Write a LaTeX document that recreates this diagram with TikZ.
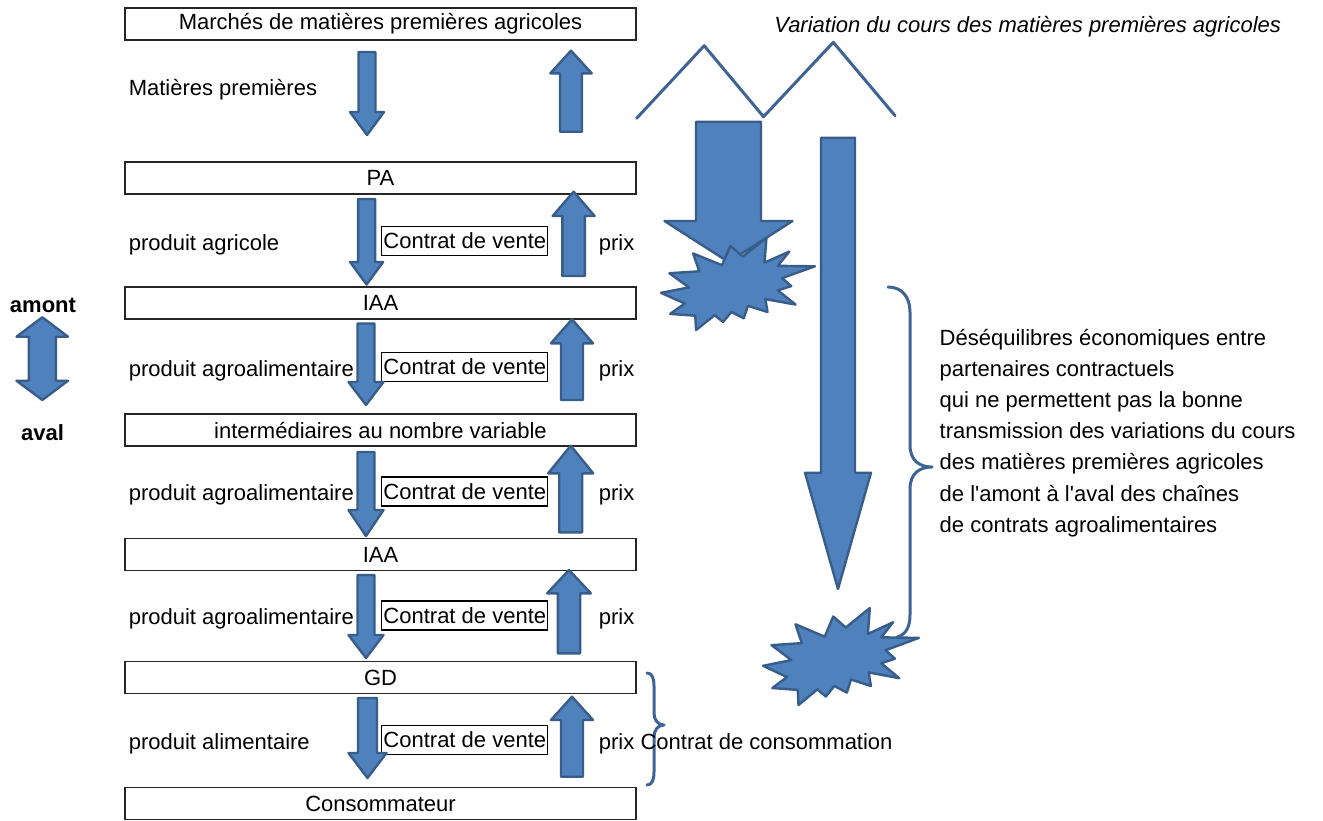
\documentclass[tikz,border=0pt]{standalone}
\usepackage{fontspec}
\setmainfont{Liberation Sans}
\definecolor{afill}{HTML}{4F81BD}
\definecolor{aline}{HTML}{385D8A}
\definecolor{bline}{RGB}{62,100,150}
\newcommand{\blockarrow}[6]{% x, y start, y head base, y tip, shaft half width, head half width
  \draw[blockshape] ({#1-#5},#2) -- ({#1+#5},#2) -- ({#1+#5},#3) -- ({#1+#6},#3) -- (#1,#4) -- ({#1-#6},#3) -- ({#1-#5},#3) -- cycle;}
\tikzset{
  blockshape/.style={fill=afill, draw=aline, line width=1.2pt, line join=round},
  mainbox/.style={draw=black!85, line width=0.9pt, minimum width=255.5pt, minimum height=16pt, inner sep=0pt, font=\fontsize{11}{13}\selectfont},
  contratbox/.style={draw=black, line width=0.6pt, minimum width=83pt, minimum height=14.5pt, inner sep=0pt, font=\fontsize{11}{13}\selectfont},
  lbl/.style={anchor=base west, inner sep=0pt, font=\fontsize{11}{13}\selectfont},
  blbl/.style={anchor=base, inner sep=0pt, font=\fontsize{11}{13}\bfseries\selectfont},
  thinline/.style={draw=bline, line width=1.5pt, line cap=round, line join=round},
  seal/.pic={
    \draw[blockshape] (53.06,20.10) -- (68.47,0) -- (67.25,26.75) -- (83.37,14.69) -- (75.83,30.24) -- (100,30.76) -- (78.63,43.53) -- (84.58,52.27) -- (75.83,56.99) -- (87.39,72.37) -- (67.78,66.44) -- (69.18,80.42) -- (56.39,73.77) -- (53.76,87.23) -- (45.70,80.42) -- (40.28,91.26) -- (34.85,83.91) -- (22.76,100) -- (22.25,84.44) -- (5.95,82.52) -- (15.42,71.16) -- (0,59.62) -- (18.22,53.67) -- (5.43,38.29) -- (24.87,36.19) -- (20.84,16.78) -- (39.58,29.55) -- (45.01,8.74) -- cycle;
  }
}
\begin{document}
\begin{tikzpicture}[x=0.5pt,y=-0.5pt]
\useasboundingbox (0,0) rectangle (1323,820);

% main boxes
\node[mainbox] (mkt) at (380.5,24) {Marchés de matières premières agricoles};
\node[mainbox] (pa) at (380.5,178.2) {PA};
\node[mainbox] (iaa1) at (380.5,303.3) {IAA};
\node[mainbox] (inter) at (380.5,430.2) {intermédiaires au nombre variable};
\node[mainbox] (iaa2) at (380.5,554.5) {IAA};
\node[mainbox] (gd) at (380.5,677.5) {GD};
\node[mainbox] (cons) at (380.5,803.5) {Consommateur};

% contract boxes
\node[contratbox] (c1) at (464.8,241) {Contrat de vente};
\node[contratbox] (c2) at (464.8,367) {Contrat de vente};
\node[contratbox] (c3) at (464.8,491.5) {Contrat de vente};
\node[contratbox] (c4) at (464.8,615.5) {Contrat de vente};
\node[contratbox] (c5) at (464.8,740) {Contrat de vente};

% left labels
\node[lbl] (l0) at (128.4,95.5) {Matières premières};
\node[lbl] (l1) at (128.4,250.5) {produit agricole};
\node[lbl] (l2) at (128.4,376.8) {produit agroalimentaire};
\node[lbl] (l3) at (128.4,500.8) {produit agroalimentaire};
\node[lbl] (l4) at (128.4,624.8) {produit agroalimentaire};
\node[lbl] (l5) at (128.4,749.2) {produit alimentaire};

% prix labels
\node[lbl] (p1) at (598.5,250.5) {prix};
\node[lbl] (p2) at (598.5,376.8) {prix};
\node[lbl] (p3) at (598.5,500.8) {prix};
\node[lbl] (p4) at (598.5,624.8) {prix};
\node[lbl] (p5) at (598.5,749.2) {prix};

% down arrows
\blockarrow{367}{52}{112}{135}{8.5}{17}
\blockarrow{366.6}{199}{262}{284.5}{8.5}{16.5}
\blockarrow{366}{323.5}{382}{405}{8.5}{17.5}
\blockarrow{366}{452}{510}{536}{8.5}{17.5}
\blockarrow{366}{575}{635}{658}{8.5}{17.5}
\blockarrow{367.5}{698}{753}{778}{9.5}{19}

% up arrows
\blockarrow{571}{131.7}{73.3}{50.7}{11}{20.7}
\blockarrow{573.6}{276}{216}{191.7}{11.2}{21}
\blockarrow{572}{400}{343.3}{319.3}{11}{21}
\blockarrow{570.7}{532.3}{473.3}{445.7}{11.5}{22.5}
\blockarrow{569}{653.3}{593.3}{570}{11.2}{21.8}
\blockarrow{572}{776.7}{720}{696.7}{11}{21}

% amont / aval
\node[blbl] (amont) at (43,312.5) {amont};
\node[blbl] (aval) at (42.5,440.5) {aval};
\draw[blockshape] (42.3,317.3) -- (68,336.7) -- (55.8,336.7) -- (55.8,380.7) -- (68,380.7) -- (42.3,400) -- (16.5,380.7) -- (28.8,380.7) -- (28.8,336.7) -- (16.5,336.7) -- cycle;

% variation title and zigzag
\node[anchor=base, inner sep=0pt, font=\fontsize{11}{13}\itshape\selectfont] (var) at (1027.7,32.5) {Variation du cours des matières premières agricoles};
\draw[thinline] (636.6,118.3) -- (704.2,45.7) -- (763.5,116.7) -- (833.3,42.3) -- (895.1,115.7);

% big arrows and explosions
\blockarrow{728.5}{121.7}{221}{262}{32.5}{64}
\path (661,238) pic[xscale=1.54, yscale=0.92] {seal};
\blockarrow{838}{137.7}{472.7}{589}{17}{33}
\path (763,608) pic[xscale=1.56, yscale=0.97] {seal};

% right brace
\draw[thinline] (888,287) .. controls (902,287) and (910,297) .. (910,312) -- (910,445) .. controls (910,460) and (919,467) .. (932,467) .. controls (919,467) and (910,474) .. (910,489) -- (910,615) .. controls (910,628) and (905,635) .. (897,637);

% explanatory text
\node[anchor=north west, inner sep=0pt, align=left, font=\fontsize{11}{15.6}\selectfont] (expl) at (939.3,322.8) {\strut Déséquilibres économiques entre\\partenaires contractuels\\qui ne permettent pas la bonne\\transmission des variations du cours\\des matières premières agricoles\\de l\textquotesingle amont à l\textquotesingle aval des chaînes\\de contrats agroalimentaires};

% consumer brace and label
\draw[thinline] (647,673) .. controls (652,673) and (654,678) .. (654,686) -- (654,713) .. controls (654,720) and (658,725) .. (664,725) .. controls (658,725) and (654,730) .. (654,737) -- (654,772) .. controls (654,780) and (652,785) .. (647,785);
\node[lbl] (ccons) at (640.2,749.2) {Contrat de consommation};
\end{tikzpicture}
\end{document}
